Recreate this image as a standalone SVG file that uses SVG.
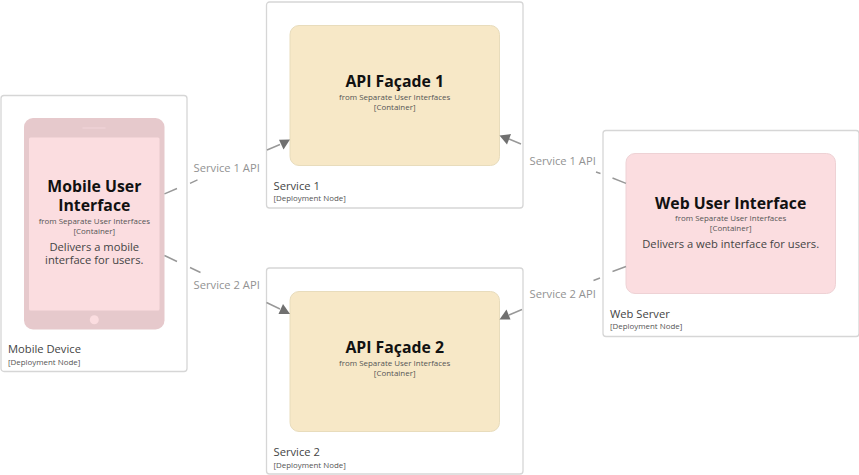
<svg xmlns="http://www.w3.org/2000/svg" width="859" height="475" viewBox="0 0 859 475">
<style>
text{font-family:"Open Sans","Noto Sans","DejaVu Sans",sans-serif;}
.dn{fill:#fff;stroke:#d6d6d6;stroke-width:1.3;}
.y{fill:#f7e8c7;stroke:#e8dcbc;}
.p{fill:#fbdde0;stroke:#eed2d5;}
.t{font-size:15.8px;font-weight:700;fill:#111;text-anchor:middle;}
.s{font-size:7.95px;fill:#555;text-anchor:middle;}
.d{font-size:11.2px;fill:#444;text-anchor:middle;}
.n{font-size:11.2px;fill:#444;}
.k{font-size:7.9px;fill:#555;}
.l{font-size:11.2px;fill:#929292;text-anchor:middle;}
.e{stroke:#989898;stroke-width:1.4;fill:none;}
.a{fill:#707070;}
</style>
<g id="node-mobile-device">
<rect class="dn" x="1" y="95.500" width="186" height="276" rx="3"/>
<text class="n" x="8" y="353">Mobile Device</text>
<text class="k" x="8" y="365">[Deployment Node]</text>
</g>
<g id="node-service-1">
<rect class="dn" x="266.500" y="2" width="256.500" height="206" rx="3"/>
<text class="n" x="273.500" y="190">Service 1</text>
<text class="k" x="273.500" y="201">[Deployment Node]</text>
</g>
<g id="node-service-2">
<rect class="dn" x="266.500" y="268" width="256.500" height="206" rx="3"/>
<text class="n" x="273.500" y="456">Service 2</text>
<text class="k" x="273.500" y="468">[Deployment Node]</text>
</g>
<g id="node-web-server">
<rect class="dn" x="603" y="130.500" width="256" height="206" rx="3"/>
<text class="n" x="610" y="318">Web Server</text>
<text class="k" x="610" y="329">[Deployment Node]</text>
</g>
<g id="node-mobile-ui">
<rect x="24" y="118" width="140.500" height="211.500" rx="9" fill="#e6c9cc"/>
<rect x="29" y="137.500" width="130.500" height="173" rx="1.500" fill="#fbdde0"/>
<rect x="82.500" y="127.500" width="23" height="1" fill="#f2d6d9"/>
<circle cx="94.300" cy="319.800" r="4.500" fill="#fbdde0"/>
<text class="t" x="94.300" y="191.500">Mobile User</text>
<text class="t" x="94.300" y="211">Interface</text>
<text class="s" x="94.300" y="224">from Separate User Interfaces</text>
<text class="s" x="94.300" y="234">[Container]</text>
<text class="d" x="94.300" y="251">Delivers a mobile</text>
<text class="d" x="94.300" y="263.500">interface for users.</text>
</g>
<g id="node-api-1">
<rect class="y" x="290" y="25.500" width="209.500" height="140" rx="9"/>
<text class="t" x="394.700" y="87">API Façade 1</text>
<text class="s" x="394.700" y="100">from Separate User Interfaces</text>
<text class="s" x="394.700" y="110">[Container]</text>
</g>
<g id="node-api-2">
<rect class="y" x="290" y="291.500" width="209.500" height="140" rx="9"/>
<text class="t" x="394.700" y="353">API Façade 2</text>
<text class="s" x="394.700" y="366">from Separate User Interfaces</text>
<text class="s" x="394.700" y="376">[Container]</text>
</g>
<g id="node-web-ui">
<rect class="p" x="626" y="153.500" width="209.500" height="140" rx="9"/>
<text class="t" x="730.700" y="208.500">Web User Interface</text>
<text class="s" x="730.700" y="221">from Separate User Interfaces</text>
<text class="s" x="730.700" y="231">[Container]</text>
<text class="d" x="730.700" y="247.500">Delivers a web interface for users.</text>
</g>
<g id="connectors">
<path class="e" d="M164.500 193.800L177 188.500M190 183.300L197.500 179.800M267 150L280 144.500"/>
<polygon class="a" points="290,139.500 283.500,149.500 279,139.800"/>
<text class="l" x="226.700" y="171.500">Service 1 API</text>
<path class="e" d="M164.500 255.500L177 261.500M190 267.500L200.500 272.500M266.500 302.500L280 309"/>
<polygon class="a" points="290,314 278.500,314 283,304"/>
<text class="l" x="226.700" y="289">Service 2 API</text>
<path class="e" d="M626 183.300L612.500 178M596 172L600.500 173.500M521 144L509 139"/>
<polygon class="a" points="499.500,135.500 511,134 507,144.500"/>
<text class="l" x="562.700" y="164.500">Service 1 API</text>
<path class="e" d="M626 266.500L612.500 271.500M600 278L593.500 280.500M522 309.500L509 315"/>
<polygon class="a" points="499.500,319.500 506.500,309.500 510.500,319.500"/>
<text class="l" x="562.700" y="297.500">Service 2 API</text>
</g>
</svg>
